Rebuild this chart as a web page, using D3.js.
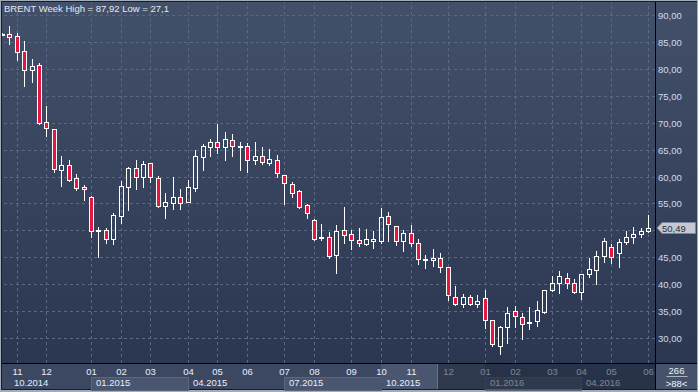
<!DOCTYPE html>
<html>
<head>
<meta charset="utf-8">
<script src="https://cdn.jsdelivr.net/npm/d3@7"></script>
<style>
  body { margin: 0; background: #a3abb8; }
  svg { display: block; font-family: 'Liberation Sans', Arial, sans-serif; }
</style>
</head>
<body>
<svg id="chart"></svg>
<script>
// Weekly BRENT candles (oldest first)
const openVals = [86.3, 86.4, 86.1, 83.4, 79.7, 80.7, 70.1, 68.8, 61.3, 62.1, 59.7, 58.0, 56.1, 49.8, 50.0, 48.4, 52.7, 58.1,
  61.5, 60.0, 62.5, 59.7, 54.5, 55.1, 56.1, 55.3, 57.9, 63.7, 65.4, 66.5, 65.4, 66.8, 65.5, 65.6, 63.1, 63.8, 62.6, 63.0,
  60.2, 58.6, 57.3, 54.7, 51.9, 48.5, 48.8, 45.4, 50.0, 49.3, 48.2, 47.5, 48.1, 48.0, 52.7, 50.8, 48.0, 49.5, 47.6, 44.4,
  44.4, 44.8, 43.1, 37.7, 36.3, 37.7, 36.4, 37.4, 33.3, 28.6, 32.0, 35.0, 33.9, 32.7, 33.1, 34.9, 39.0, 40.2, 41.2, 40.3,
  38.5, 41.8, 42.6, 45.2, 46.9, 45.7, 47.8, 48.7, 49.4, 49.8];
const highVals = [86.6, 87.92, 86.6, 85.2, 81.8, 81.0, 73.1, 68.8, 63.8, 63.1, 60.5, 58.5, 56.4, 50.7, 50.4, 53.2, 59.2, 61.8,
  63.1, 62.8, 62.6, 60.1, 56.9, 60.0, 57.7, 59.4, 64.9, 66.0, 66.9, 69.7, 68.3, 67.9, 66.4, 66.2, 66.4, 65.5, 65.1, 64.0,
  60.2, 59.0, 57.5, 54.9, 52.1, 51.2, 49.6, 51.0, 54.3, 50.1, 50.4, 50.3, 49.9, 54.1, 53.4, 50.8, 50.1, 51.0, 48.3, 45.4,
  46.5, 45.8, 43.1, 39.7, 38.2, 37.9, 37.9, 38.9, 33.3, 32.2, 35.8, 35.9, 34.6, 35.8, 36.9, 38.9, 41.5, 42.5, 42.1, 40.9,
  41.8, 44.8, 46.2, 48.5, 47.4, 48.3, 49.9, 50.6, 50.4, 52.8];
const lowVals = [86.2, 84.7, 81.6, 76.9, 77.6, 69.8, 67.6, 60.9, 58.3, 59.2, 57.4, 55.6, 48.8, 45.1, 47.7, 47.5, 51.4, 53.8,
  57.7, 58.1, 59.0, 54.4, 52.3, 54.0, 54.0, 55.3, 57.3, 61.2, 63.8, 64.3, 63.1, 63.9, 61.2, 60.9, 62.3, 62.3, 62.1, 60.0,
  54.9, 56.2, 54.1, 52.2, 48.2, 48.2, 44.9, 42.1, 47.7, 46.5, 47.0, 47.3, 46.8, 47.6, 48.1, 47.2, 46.2, 47.1, 43.8, 43.0,
  43.4, 42.3, 37.1, 36.2, 35.8, 36.2, 35.8, 31.9, 28.6, 27.1, 29.1, 32.1, 29.8, 31.7, 32.3, 34.7, 38.8, 38.3, 39.2, 38.4,
  37.2, 41.3, 40.0, 44.1, 44.0, 43.2, 47.4, 47.6, 48.7, 49.6];
const closeVals = [86.5, 86.0, 83.1, 79.7, 80.5, 70.0, 69.0, 61.4, 62.1, 59.4, 57.9, 57.6, 49.8, 50.0, 48.4, 52.8, 58.2, 61.6,
  60.0, 62.3, 59.9, 54.6, 55.2, 56.1, 55.1, 58.0, 63.8, 65.7, 66.5, 65.4, 66.9, 65.6, 65.7, 63.1, 63.8, 62.7, 63.2, 60.6,
  58.7, 57.0, 54.3, 53.3, 48.4, 48.8, 45.3, 49.8, 49.2, 48.2, 47.7, 48.3, 48.3, 52.4, 51.2, 48.1, 49.5, 47.7, 44.6, 44.6,
  44.8, 43.1, 37.9, 36.4, 37.7, 36.4, 36.8, 33.3, 28.9, 32.0, 34.6, 34.0, 32.6, 32.9, 35.2, 38.9, 40.3, 41.5, 40.3, 38.6,
  41.8, 42.8, 45.2, 48.1, 45.1, 47.8, 48.7, 49.4, 49.8, 50.49];

// first bar of each month / quarter (bar index) and their labels
const monthTickIdx = [2, 6, 12, 16, 20, 25, 29, 33, 38, 42, 47, 51, 55, 60, 65, 69, 74, 78, 82, 87];
const monthTickLabels = ['11', '12', '01', '02', '03', '04', '05', '06', '07', '08', '09', '10', '11', '12', '01', '02', '03', '04', '05', '06'];
const quarterStartIdx = [0, 12, 25, 38, 51, 65, 78];
const quarterLabels = ['10.2014', '01.2015', '04.2015', '07.2015', '10.2015', '01.2016', '04.2016'];
const yTickVals = [30, 35, 40, 45, 50, 55, 60, 65, 70, 75, 80, 85, 90];

const instrument = 'BRENT';
const period = 'Week';
const barsTotal = 266;
const navStart = 58.5;   // left edge of the dimmed navigator part
const hoverQuarter = 4;

class CandleChart {

    constructor(_config) {
        this.config = {
            parentElement: _config.parentElement,
            containerWidth: _config.containerWidth || 698,
            containerHeight: _config.containerHeight || 392,
            plot: { left: 2, right: 655, top: 2, bottom: 363 }
        }
        this.initVis();
    }

    initVis() {
        let vis = this;
        let p = vis.config.plot;

        vis.data = openVals.map((o, i) => ({ i: i, o: o, h: highVals[i], l: lowVals[i], c: closeVals[i] }));

        vis.x = d3.scaleLinear()
            .domain([0, vis.data.length - 1])
            .range([1.9, 648.3])
            .interpolate(d3.interpolateRound);

        vis.y = d3.scaleLinear()
            .domain([30, 90])
            .range([338, 15])
            .interpolate(d3.interpolateRound);

        vis.comma = v => String(v).replace('.', ',');
        vis.fmt = v => d3.format('.2f')(v).replace('.', ',');

        vis.svg = d3.select(vis.config.parentElement)
            .attr('width', vis.config.containerWidth)
            .attr('height', vis.config.containerHeight);

        let defs = vis.svg.append('defs');
        let grad = defs.append('linearGradient')
            .attr('id', 'bgGrad')
            .attr('x1', 0).attr('y1', 0).attr('x2', 0).attr('y2', 1);
        grad.append('stop').attr('offset', 0).attr('stop-color', '#435069');
        grad.append('stop').attr('offset', 1).attr('stop-color', '#2b3750');

        defs.append('clipPath').attr('id', 'plotClip')
            .append('rect')
            .attr('x', p.left).attr('y', p.top)
            .attr('width', p.right - p.left).attr('height', p.bottom - p.top);

        // frame
        vis.svg.append('rect')
            .attr('width', vis.config.containerWidth).attr('height', vis.config.containerHeight)
            .attr('fill', '#a3abb8');
        vis.svg.append('rect')
            .attr('x', 1).attr('y', 1)
            .attr('width', vis.config.containerWidth - 2).attr('height', vis.config.containerHeight - 3)
            .attr('fill', '#161d2b');

        // plot + price scale background
        vis.svg.append('rect')
            .attr('x', p.left).attr('y', p.top)
            .attr('width', p.right - p.left).attr('height', p.bottom - p.top)
            .attr('fill', 'url(#bgGrad)');
        vis.svg.append('rect')
            .attr('x', p.right + 1).attr('y', p.top)
            .attr('width', vis.config.containerWidth - p.right - 2).attr('height', p.bottom - p.top)
            .attr('fill', 'url(#bgGrad)');

        // time axis background
        vis.svg.append('rect')
            .attr('x', p.left).attr('y', p.bottom + 1)
            .attr('width', p.right - p.left).attr('height', 25)
            .attr('fill', '#3c4862');
        vis.svg.append('rect')
            .attr('x', p.right + 1).attr('y', p.bottom + 1)
            .attr('width', vis.config.containerWidth - p.right - 2).attr('height', 25)
            .attr('fill', '#46526b');

        vis.gridG = vis.svg.append('g').attr('class', 'grid');
        vis.candleG = vis.svg.append('g').attr('clip-path', 'url(#plotClip)');
        vis.axisG = vis.svg.append('g').attr('class', 'time-axis');

        vis.updateVis();
    }

    updateVis() {
        let vis = this;
        vis.maxHigh = d3.max(vis.data, d => d.h);
        vis.minLow = d3.min(vis.data, d => d.l);
        vis.last = vis.data[vis.data.length - 1];
        // price labels hidden by the last price marker are left out
        vis.priceLabels = yTickVals.filter(v => Math.abs(vis.y(v) - vis.y(vis.last.c)) > 8);
        vis.renderVis();
    }

    renderVis() {
        let vis = this;
        let p = vis.config.plot;

        // Grid lines (dashed)
        vis.gridG.append('g')
            .attr('transform', `translate(${p.right},0)`)
            .call(d3.axisRight(vis.y).tickValues(yTickVals).tickSize(-(p.right - p.left)).tickFormat(''));
        vis.gridG.append('g')
            .attr('transform', `translate(0,${p.bottom})`)
            .call(d3.axisBottom(vis.x).tickValues(monthTickIdx).tickSize(-(p.bottom - p.top)).tickFormat(''));
        vis.gridG.selectAll('.domain').remove();
        vis.gridG.selectAll('line')
            .attr('stroke', '#5b6884')
            .attr('stroke-dasharray', '3,3');

        // Candles
        let candle = vis.candleG.selectAll('.candle')
            .data(vis.data)
            .join('g')
            .attr('class', 'candle');

        candle.each(function(d) {
            let g = d3.select(this);
            let cx = vis.x(d.i);
            let top = vis.y(Math.max(d.o, d.c));
            let bot = vis.y(Math.min(d.o, d.c));
            let hgt = Math.max(bot - top, 1);

            g.append('line')
                .attr('x1', cx + 0.5).attr('x2', cx + 0.5)
                .attr('y1', vis.y(d.h)).attr('y2', top)
                .attr('stroke', '#ffffff');
            g.append('line')
                .attr('x1', cx + 0.5).attr('x2', cx + 0.5)
                .attr('y1', top + hgt + 1).attr('y2', vis.y(d.l) + 1)
                .attr('stroke', '#ffffff');
            g.append('rect')
                .attr('x', cx - 1.5).attr('y', top + 0.5)
                .attr('width', 4).attr('height', hgt)
                .attr('fill', d.c < d.o ? '#e3173f' : 'none')
                .attr('stroke', '#ffffff');
        });

        // separators
        vis.svg.append('line')
            .attr('x1', p.right + 0.5).attr('x2', p.right + 0.5)
            .attr('y1', p.top).attr('y2', vis.config.containerHeight - 2)
            .attr('stroke', '#000000');
        vis.svg.append('line')
            .attr('x1', p.left).attr('x2', vis.config.containerWidth - 1)
            .attr('y1', p.bottom + 0.5).attr('y2', p.bottom + 0.5)
            .attr('stroke', '#000000');

        // Title
        vis.svg.append('text')
            .attr('x', 4).attr('y', 12)
            .attr('font-size', 9.5)
            .attr('fill', '#e4e9f2')
            .text(`${instrument} ${period} High = ${vis.comma(vis.maxHigh)} Low = ${vis.comma(vis.minLow)}`);

        // Price scale
        let yAxisG = vis.svg.append('g')
            .attr('transform', `translate(${p.right},0)`)
            .call(d3.axisRight(vis.y).tickValues(vis.priceLabels).tickSize(0).tickPadding(3).tickFormat(vis.fmt));
        yAxisG.select('.domain').remove();
        yAxisG.attr('font-size', 9.5).attr('font-family', null)
            .selectAll('text').attr('fill', '#cfdbf3');

        // Last price marker
        let ly = vis.y(vis.last.c);
        vis.svg.append('path')
            .attr('d', `M${p.right + 2},${ly} L${p.right + 7},${ly - 5.5} L${p.right + 40.5},${ly - 5.5} L${p.right + 40.5},${ly + 5.5} L${p.right + 7},${ly + 5.5} Z`)
            .attr('fill', '#c3c8d1')
            .attr('stroke', '#7d8698');
        vis.svg.append('text')
            .attr('x', p.right + 7).attr('y', ly + 3.5)
            .attr('font-size', 9.5)
            .attr('fill', '#27303f')
            .text(vis.fmt(vis.last.c));

        // Quarter boxes
        let qRowTop = p.bottom + 14;
        let qEnd = (k) => k + 1 < quarterStartIdx.length ? vis.x(quarterStartIdx[k + 1]) : p.right;
        quarterStartIdx.forEach((s, k) => {
            let x0 = Math.max(vis.x(s), p.left);
            if (k === hoverQuarter) {
                vis.axisG.append('rect')
                    .attr('x', x0).attr('y', p.bottom + 1)
                    .attr('width', qEnd(k) - x0).attr('height', 25)
                    .attr('fill', '#4a5670');
            } else if (k % 2 === 1) {
                vis.axisG.append('rect')
                    .attr('x', x0 + 0.5).attr('y', qRowTop + 0.5)
                    .attr('width', qEnd(k) - x0).attr('height', 13)
                    .attr('fill', '#4a5670')
                    .attr('stroke', '#5b6780');
            }
        });
        vis.axisG.selectAll('.qlabel')
            .data(quarterStartIdx)
            .join('text')
            .attr('class', 'qlabel')
            .attr('x', (d, k) => k === 0 ? vis.x(monthTickIdx[0]) - 3 : vis.x(d) + 5)
            .attr('y', p.bottom + 23)
            .attr('font-size', 9.5)
            .attr('fill', '#e9eef7')
            .text((d, k) => quarterLabels[k]);

        // Month labels
        let monthG = vis.axisG.append('g')
            .attr('transform', `translate(0,${p.bottom + 5})`)
            .call(d3.axisBottom(vis.x).tickValues(monthTickIdx).tickSize(0).tickPadding(0)
                .tickFormat((d, k) => monthTickLabels[k]));
        monthG.select('.domain').remove();
        monthG.attr('font-size', 9.5).attr('font-family', null)
            .selectAll('text').attr('fill', '#e9eef7');

        // Dimmed navigator part
        let nx = vis.x(navStart);
        vis.axisG.append('rect')
            .attr('x', nx).attr('y', p.bottom + 1)
            .attr('width', p.right - nx).attr('height', 25)
            .attr('fill', 'rgba(22,30,48,0.52)');
        vis.axisG.append('line')
            .attr('x1', nx + 0.5).attr('x2', nx + 0.5)
            .attr('y1', p.bottom + 1).attr('y2', p.bottom + 26)
            .attr('stroke', '#66728b');

        // Bar counter
        let cx = (p.right + vis.config.containerWidth) / 2;
        vis.svg.append('text')
            .attr('x', cx).attr('y', p.bottom + 11)
            .attr('text-anchor', 'middle')
            .attr('font-size', 9.5)
            .attr('fill', '#eef2f8')
            .text(barsTotal);
        vis.svg.append('line')
            .attr('x1', cx - 10).attr('x2', cx + 11)
            .attr('y1', p.bottom + 13.5).attr('y2', p.bottom + 13.5)
            .attr('stroke', '#aab4c4');
        vis.svg.append('text')
            .attr('x', cx).attr('y', p.bottom + 23.5)
            .attr('text-anchor', 'middle')
            .attr('font-size', 9.5)
            .attr('fill', '#eef2f8')
            .text(`>${vis.data.length}<`);
    }
}

new CandleChart({ parentElement: '#chart', containerWidth: 698, containerHeight: 392 });
</script>
</body>
</html>
